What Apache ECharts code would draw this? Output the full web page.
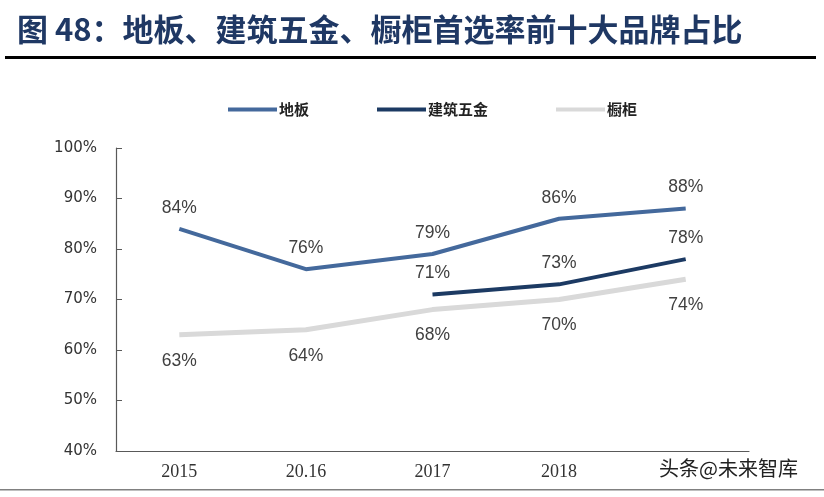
<!DOCTYPE html>
<html>
<head>
<meta charset="utf-8">
<script src="https://cdn.jsdelivr.net/npm/echarts@6/dist/echarts.min.js"></script>
<style>
  html, body { margin: 0; padding: 0; background: #fff; }
  #chart { width: 824px; height: 497px; }
</style>
</head>
<body>
<div id="chart"></div>
<script>
// 数据
const years = ['2015', '20.16', '2017', '2018', ''];
const diban = [84, 76, 79, 86, 88];
const wujin = [null, null, 71, 73, 78];
const chugui = [63, 64, 68, 70, 74];

const labelFont = { fontFamily: 'Liberation Sans, Arial, sans-serif', fontSize: 17.5, color: '#404040' };

const chart = echarts.init(document.getElementById('chart'));
const option = {
  backgroundColor: '#fff',
  title: {
    text: '图 48：地板、建筑五金、橱柜首选率前十大品牌占比',
    left: 12,
    top: 9,
    textStyle: {
      fontFamily: 'Noto Sans CJK SC',
      fontWeight: 'bold',
      fontSize: 31,
      color: '#1f3864'
    }
  },
  graphic: [
    { type: 'rect', shape: { x: 5, y: 56, width: 811, height: 3 }, style: { fill: '#000' } },
    { type: 'rect', shape: { x: 0, y: 489, width: 824, height: 1.5 }, style: { fill: '#808080' } },
    {
      type: 'text', left: 659, top: 458,
      style: { text: '头条@未来智库', font: '20px "Noto Sans CJK SC"', fill: '#222' }
    }
  ],
  legend: {
    left: 223,
    top: 97,
    itemWidth: 49,
    itemHeight: 4,
    itemGap: 68,
    icon: 'rect',
    textStyle: { fontFamily: 'Noto Sans CJK SC', fontSize: 15, fontWeight: 'bold', color: '#222', padding: [0, 0, 0, -3] },
    data: ['地板', '建筑五金', '橱柜']
  },
  grid: { left: 116, right: 75, top: 148, bottom: 46 },
  xAxis: {
    type: 'category',
    data: years,
    boundaryGap: true,
    axisLine: { lineStyle: { color: '#595959', width: 1.2 } },
    axisTick: { inside: true, length: 5, lineStyle: { color: '#595959' } },
    axisLabel: { fontFamily: 'Liberation Serif, Times New Roman, serif', fontSize: 18, color: '#333', margin: 12 }
  },
  yAxis: {
    type: 'value',
    min: 40,
    max: 100,
    interval: 10,
    splitLine: { show: false },
    axisLine: { show: true, lineStyle: { color: '#595959', width: 1.2 } },
    axisTick: { show: true, inside: true, length: 6, lineStyle: { color: '#595959' } },
    axisLabel: { formatter: '{value}%', fontFamily: 'DejaVu Sans, Verdana, sans-serif', fontSize: 15, color: '#333', margin: 19 }
  },
  series: [
    {
      name: '地板', type: 'line', data: diban, symbol: 'circle', symbolSize: 0,
      lineStyle: { color: '#44699c', width: 4 }, itemStyle: { color: '#44699c' },
      label: { show: true, position: 'top', distance: 12, formatter: '{c}%', ...labelFont }
    },
    {
      name: '建筑五金', type: 'line', data: wujin, symbol: 'circle', symbolSize: 0,
      lineStyle: { color: '#1c3a63', width: 4 }, itemStyle: { color: '#1c3a63' },
      label: { show: true, position: 'top', distance: 12, formatter: '{c}%', ...labelFont }
    },
    {
      name: '橱柜', type: 'line', data: chugui, symbol: 'circle', symbolSize: 0,
      lineStyle: { color: '#d9d9d9', width: 5 }, itemStyle: { color: '#d9d9d9' },
      label: { show: true, position: 'bottom', distance: 17, formatter: '{c}%', ...labelFont }
    }
  ]
};
chart.setOption(option);
</script>
</body>
</html>
